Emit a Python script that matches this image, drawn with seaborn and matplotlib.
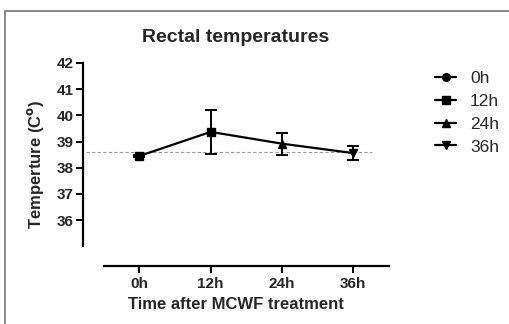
import numpy as np
import pandas as pd
import matplotlib
matplotlib.use('Agg')
import matplotlib.pyplot as plt
from matplotlib.lines import Line2D
from matplotlib.patches import Rectangle
import seaborn as sns

# Valores
tempos = ['0h', '12h', '24h', '36h']
media = [38.45, 39.37, 38.92, 38.56]
erro = [0.05, 0.83, 0.42, 0.27]
marcadores = ['s', 's', '^', 'v']
legenda_marcadores = ['o', 's', '^', 'v']
referencia = 38.6

sns.set_style('ticks')
plt.rcParams['font.family'] = ['Liberation Sans', 'DejaVu Sans']

df = pd.DataFrame({'Tempo': tempos, 'Temp': media, 'Erro': erro})
df['x'] = np.arange(len(df))

fig = plt.figure(figsize=(5.09, 3.24), dpi=100)
ax = fig.add_axes([83 / 509, 58 / 324, (389 - 83) / 509, (266 - 63) / 324])

# borda cinza da figura
fig.patches.append(Rectangle((5 / 509, -0.1), 1.1, (324 - 11) / 324 + 0.1,
                             transform=fig.transFigure, fill=False,
                             edgecolor='#777777', linewidth=1.2))

ax.axhline(referencia, xmin=0.01, xmax=0.944, color='#999999', linestyle=(0, (3, 2)), linewidth=0.8, zorder=1)
sns.lineplot(data=df, x='x', y='Temp', color='black', linewidth=1.6, ax=ax, zorder=2)
ax.errorbar(df['x'], df['Temp'], yerr=df['Erro'], fmt='none', ecolor='black',
            elinewidth=1.4, capsize=4, capthick=1.4, zorder=3)
for i, row in df.iterrows():
    ax.plot(row['x'], row['Temp'], marker=marcadores[i], color='black', markersize=5.5, zorder=4)

ax.set_xlim(-0.79, 3.5)
ax.set_ylim(34.25, 42)
ax.set_yticks([36, 37, 38, 39, 40, 41, 42])
ax.set_xticks(df['x'])
ax.set_xticklabels(tempos)
ax.spines['left'].set_bounds(35, 42)
ax.spines['bottom'].set_bounds(-0.5, 3.5)
for s in ['left', 'bottom']:
    ax.spines[s].set_linewidth(1.6)
    ax.spines[s].set_color('black')
sns.despine(ax=ax)
ax.tick_params(axis='both', width=1.4, length=5, color='black', labelsize=11, pad=1.5)
ax.tick_params(axis='x', pad=3)
for lab in ax.get_xticklabels() + ax.get_yticklabels():
    lab.set_fontweight('bold')

ax.set_xlabel('Time after MCWF treatment', fontsize=12, fontweight='bold', labelpad=4)
ax.set_ylabel('Temperture (C$^{\\mathbf{o}}$)', fontsize=12, fontweight='bold', labelpad=8)
ax.set_title('Rectal temperatures', fontsize=14, fontweight='bold', pad=15, x=0.5)

handles = [Line2D([0], [0], color='black', marker=m, markersize=5.5, linewidth=1.6) for m in legenda_marcadores]
leg = ax.legend(handles, tempos, loc='upper left', bbox_to_anchor=(1.1, 1.04),
                frameon=False, fontsize=12.5, handlelength=1.2, handletextpad=0.8, labelspacing=0.45)

fig.savefig('out.png', dpi=100)
